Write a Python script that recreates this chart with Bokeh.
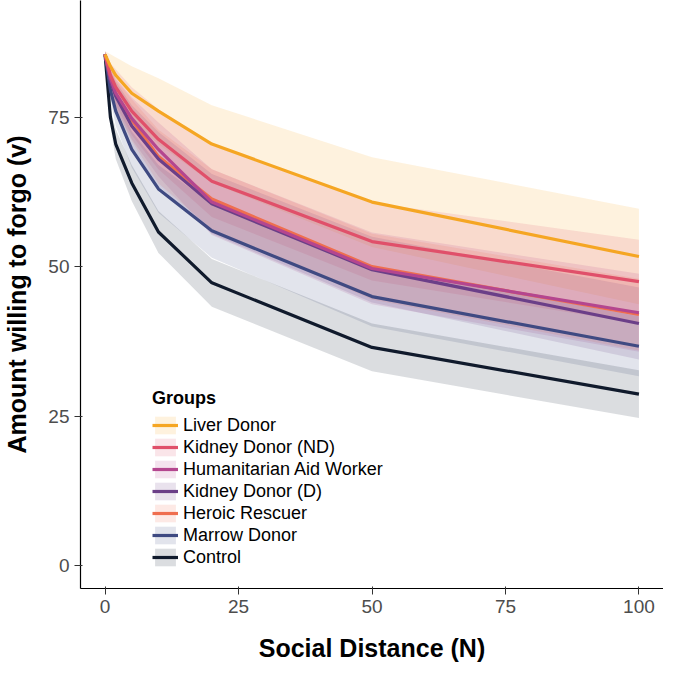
from bokeh.plotting import figure
from bokeh.models import Range1d, Legend, LegendItem, FixedTicker
from bokeh.embed import file_html
from bokeh.resources import INLINE

N = [0, 1, 2, 5, 10, 20, 50, 100]
groups = ["Liver Donor", "Kidney Donor (ND)", "Humanitarian Aid Worker", "Kidney Donor (D)",
          "Heroic Rescuer", "Marrow Donor", "Control"]
colors = ["#f5a623", "#e0506a", "#b4468f", "#6b3f88", "#ef6e4f", "#3f4a82", "#101a2c"]
v = {
    "Liver Donor":             [85.5, 83.5, 82.0, 79.0, 76.0, 70.5, 60.8, 51.7],
    "Kidney Donor (ND)":       [85.5, 82.0, 80.0, 76.0, 71.3, 64.3, 54.2, 47.5],
    "Humanitarian Aid Worker": [85.5, 81.5, 79.0, 74.8, 69.6, 60.8, 49.7, 42.3],
    "Kidney Donor (D)":        [85.5, 81.0, 78.5, 73.5, 68.0, 60.5, 49.5, 40.5],
    "Heroic Rescuer":          [85.5, 81.3, 78.8, 74.5, 68.4, 61.3, 50.0, 42.0],
    "Marrow Donor":            [85.5, 79.5, 76.0, 69.6, 63.0, 56.0, 45.0, 36.7],
    "Control":                 [85.5, 75.0, 70.5, 64.0, 55.8, 47.3, 36.5, 28.7],
}
halfwidth = {
    "Liver Donor":             [0.5, 2.0, 3.0, 4.5, 5.5, 6.5, 7.5, 8.0],
    "Kidney Donor (ND)":       [0.5, 2.0, 3.0, 4.0, 5.0, 6.0, 6.5, 7.0],
    "Humanitarian Aid Worker": [0.5, 2.0, 2.5, 3.5, 4.5, 5.5, 6.0, 6.5],
    "Kidney Donor (D)":        [0.5, 2.0, 2.5, 3.5, 4.5, 5.0, 5.5, 6.0],
    "Heroic Rescuer":          [0.5, 2.0, 2.5, 3.5, 4.5, 5.0, 5.5, 6.0],
    "Marrow Donor":            [0.5, 1.5, 2.5, 3.0, 4.0, 4.5, 5.0, 5.0],
    "Control":                 [0.5, 1.5, 2.5, 3.0, 3.5, 4.0, 4.0, 4.0],
}

p = figure(width=663, height=664, output_backend="svg", toolbar_location=None,
           x_range=Range1d(-4.6, 104.6), y_range=Range1d(-3.8, 94.5),
           min_border_left=80, min_border_bottom=72, min_border_top=0, min_border_right=0)
p.outline_line_color = None
p.xgrid.visible = False
p.ygrid.visible = False

rend = {}
for g, c in zip(groups, colors):
    lo = [a - h for a, h in zip(v[g], halfwidth[g])]
    hi = [a + h for a, h in zip(v[g], halfwidth[g])]
    band = p.varea(x=N, y1=lo, y2=hi, fill_color=c, fill_alpha=0.15)
    rend[g] = [band]
for g, c in zip(reversed(groups), reversed(colors)):
    ln = p.line(N, v[g], line_color=c, line_width=3.2)
    rend[g].append(ln)
items = [LegendItem(label=g, renderers=rend[g]) for g in groups]

leg = Legend(items=items, title="Groups",
             title_text_font_style="bold", title_text_font_size="18px",
             title_text_font="Liberation Sans", title_text_color="black",
             label_text_font="Liberation Sans", label_text_font_size="18px",
             label_text_color="black",
             background_fill_alpha=0, border_line_color=None,
             spacing=0, glyph_height=22, label_height=22, glyph_width=26, padding=0, margin=0)
p.add_layout(leg, "center")
p.legend.location = (72, 20)

for ax in (p.xaxis[0], p.yaxis[0]):
    ax.axis_line_color = "black"
    ax.axis_line_width = 1.2
    ax.major_tick_line_color = "#333333"
    ax.minor_tick_line_color = None
    ax.major_label_text_font = "Liberation Sans"
    ax.major_label_text_font_size = "19px"
    ax.major_label_text_color = "#4d4d4d"
    ax.axis_label_text_font = "Liberation Sans"
    ax.axis_label_text_font_style = "bold"
    ax.axis_label_text_font_size = "25px"
    ax.axis_label_text_color = "black"
p.xaxis.ticker = FixedTicker(ticks=[0, 25, 50, 75, 100])
p.yaxis.ticker = FixedTicker(ticks=[0, 25, 50, 75])
p.xaxis.axis_label = "Social Distance (N)"
p.yaxis.axis_label = "Amount willing to forgo (v)"
p.xaxis.axis_label_standoff = 18
p.yaxis.axis_label_standoff = 14

open("out.html", "w").write(file_html(p, INLINE))
